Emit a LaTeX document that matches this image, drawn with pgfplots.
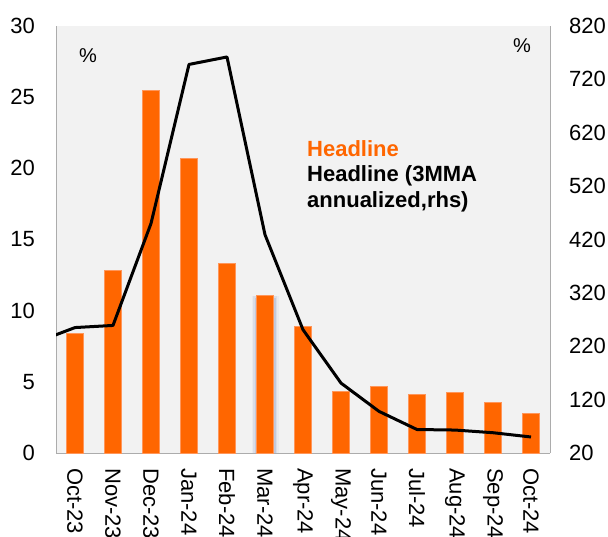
\documentclass[border=0pt]{standalone}
\usepackage{pgfplots}
\pgfplotsset{compat=1.18}
\usepackage{pgfplotstable}
\usepackage{fontspec}
\setmainfont{Liberation Sans}

\definecolor{barorange}{RGB}{255,102,0}
\definecolor{baredge}{RGB}{255,150,90}
\definecolor{plotbg}{RGB}{242,242,242}
\definecolor{spine}{RGB}{172,172,172}
\definecolor{glow}{RGB}{95,115,170}

\newcommand{\ticks}{\fontsize{22}{26}\selectfont}
\newcommand{\legendfont}{\fontsize{22}{26}\selectfont\bfseries}

% Monthly headline rate, %
\pgfplotstableread{
x val
0 8.4
1 12.8
2 25.5
3 20.7
4 13.3
5 11.1
6 8.9
7 4.3
8 4.7
9 4.1
10 4.25
11 3.55
12 2.75
}\headline

% 3-month moving average, annualized (rhs)
\pgfplotstableread{
x val
-1 228
0 255
1 259
2 450
3 748
4 762
5 429
6 251
7 151
8 98
9 64
10 63
11 58
12 50
}\annualized

\begin{document}
\begin{tikzpicture}
\useasboundingbox (0pt,0pt) rectangle (608pt,536pt);
\clip (0pt,0pt) rectangle (608pt,536pt);

\begin{axis}[
  at={(56pt,83pt)}, anchor=south west,
  width=494pt, height=427pt, scale only axis,
  xmin=-0.5, xmax=12.5, ymin=0, ymax=30,
  axis background/.style={fill=plotbg},
  axis x line*=bottom, axis y line*=left,
  axis line style={draw=spine, line width=0.8pt, -},
  major tick length=0pt,
  xtick={0,...,12},
  xticklabels={Oct-23,Nov-23,Dec-23,Jan-24,Feb-24,Mar-24,Apr-24,May-24,Jun-24,Jul-24,Aug-24,Sep-24,Oct-24},
  ytick={0,5,...,30},
  tick label style={font=\ticks},
  /pgf/number format/assume math mode=true,
  yticklabel style={anchor=east, inner sep=0pt, xshift=-21pt},
  xticklabel style={yshift=-15pt, rotate=-90, anchor=west, inner sep=0pt},
]
% soft glow behind the Mar-24 bar
\addplot[ybar, bar shift=0pt, bar width=27pt, fill=glow, draw=none, fill opacity=0.06] coordinates {(5,11.0)};
\addplot[ybar, bar shift=0pt, bar width=24pt, fill=glow, draw=none, fill opacity=0.10] coordinates {(5,11.0)};
\addplot[ybar, bar shift=0pt, bar width=21pt, fill=glow, draw=none, fill opacity=0.18] coordinates {(5,10.9)};
\addplot[ybar, bar shift=0pt, bar width=17pt, fill=barorange, draw=baredge, line width=0.8pt]
  table[x=x, y=val]{\headline};
\end{axis}

\begin{axis}[
  at={(56pt,83pt)}, anchor=south west,
  width=494pt, height=427pt, scale only axis,
  xmin=-0.5, xmax=12.5, ymin=20, ymax=820,
  axis x line=none, axis y line*=right,
  axis line style={draw=spine, line width=0.8pt, -},
  major tick length=0pt,
  ytick={20,120,...,820},
  tick label style={font=\ticks},
  /pgf/number format/assume math mode=true,
  yticklabel style={anchor=west, inner sep=0pt, xshift=19pt},
]
\addplot[black, line width=3pt, line join=round, mark=none]
  table[x=x, y=val]{\annualized};
\end{axis}

% unit labels
\node[anchor=base west, inner sep=0pt, font=\fontsize{20}{24}\selectfont] at (79pt,473.7pt) {\%};
\node[anchor=base west, inner sep=0pt, font=\fontsize{20}{24}\selectfont] at (513pt,483.3pt) {\%};

% legend
\node[anchor=base west, inner sep=0pt, font=\legendfont, text=barorange] at (307pt,379pt) {Headline};
\node[anchor=base west, inner sep=0pt, font=\legendfont] at (307pt,354pt) {Headline (3MMA};
\node[anchor=base west, inner sep=0pt, font=\legendfont] at (307pt,328.5pt) {annualized,rhs)};
\end{tikzpicture}
\end{document}
